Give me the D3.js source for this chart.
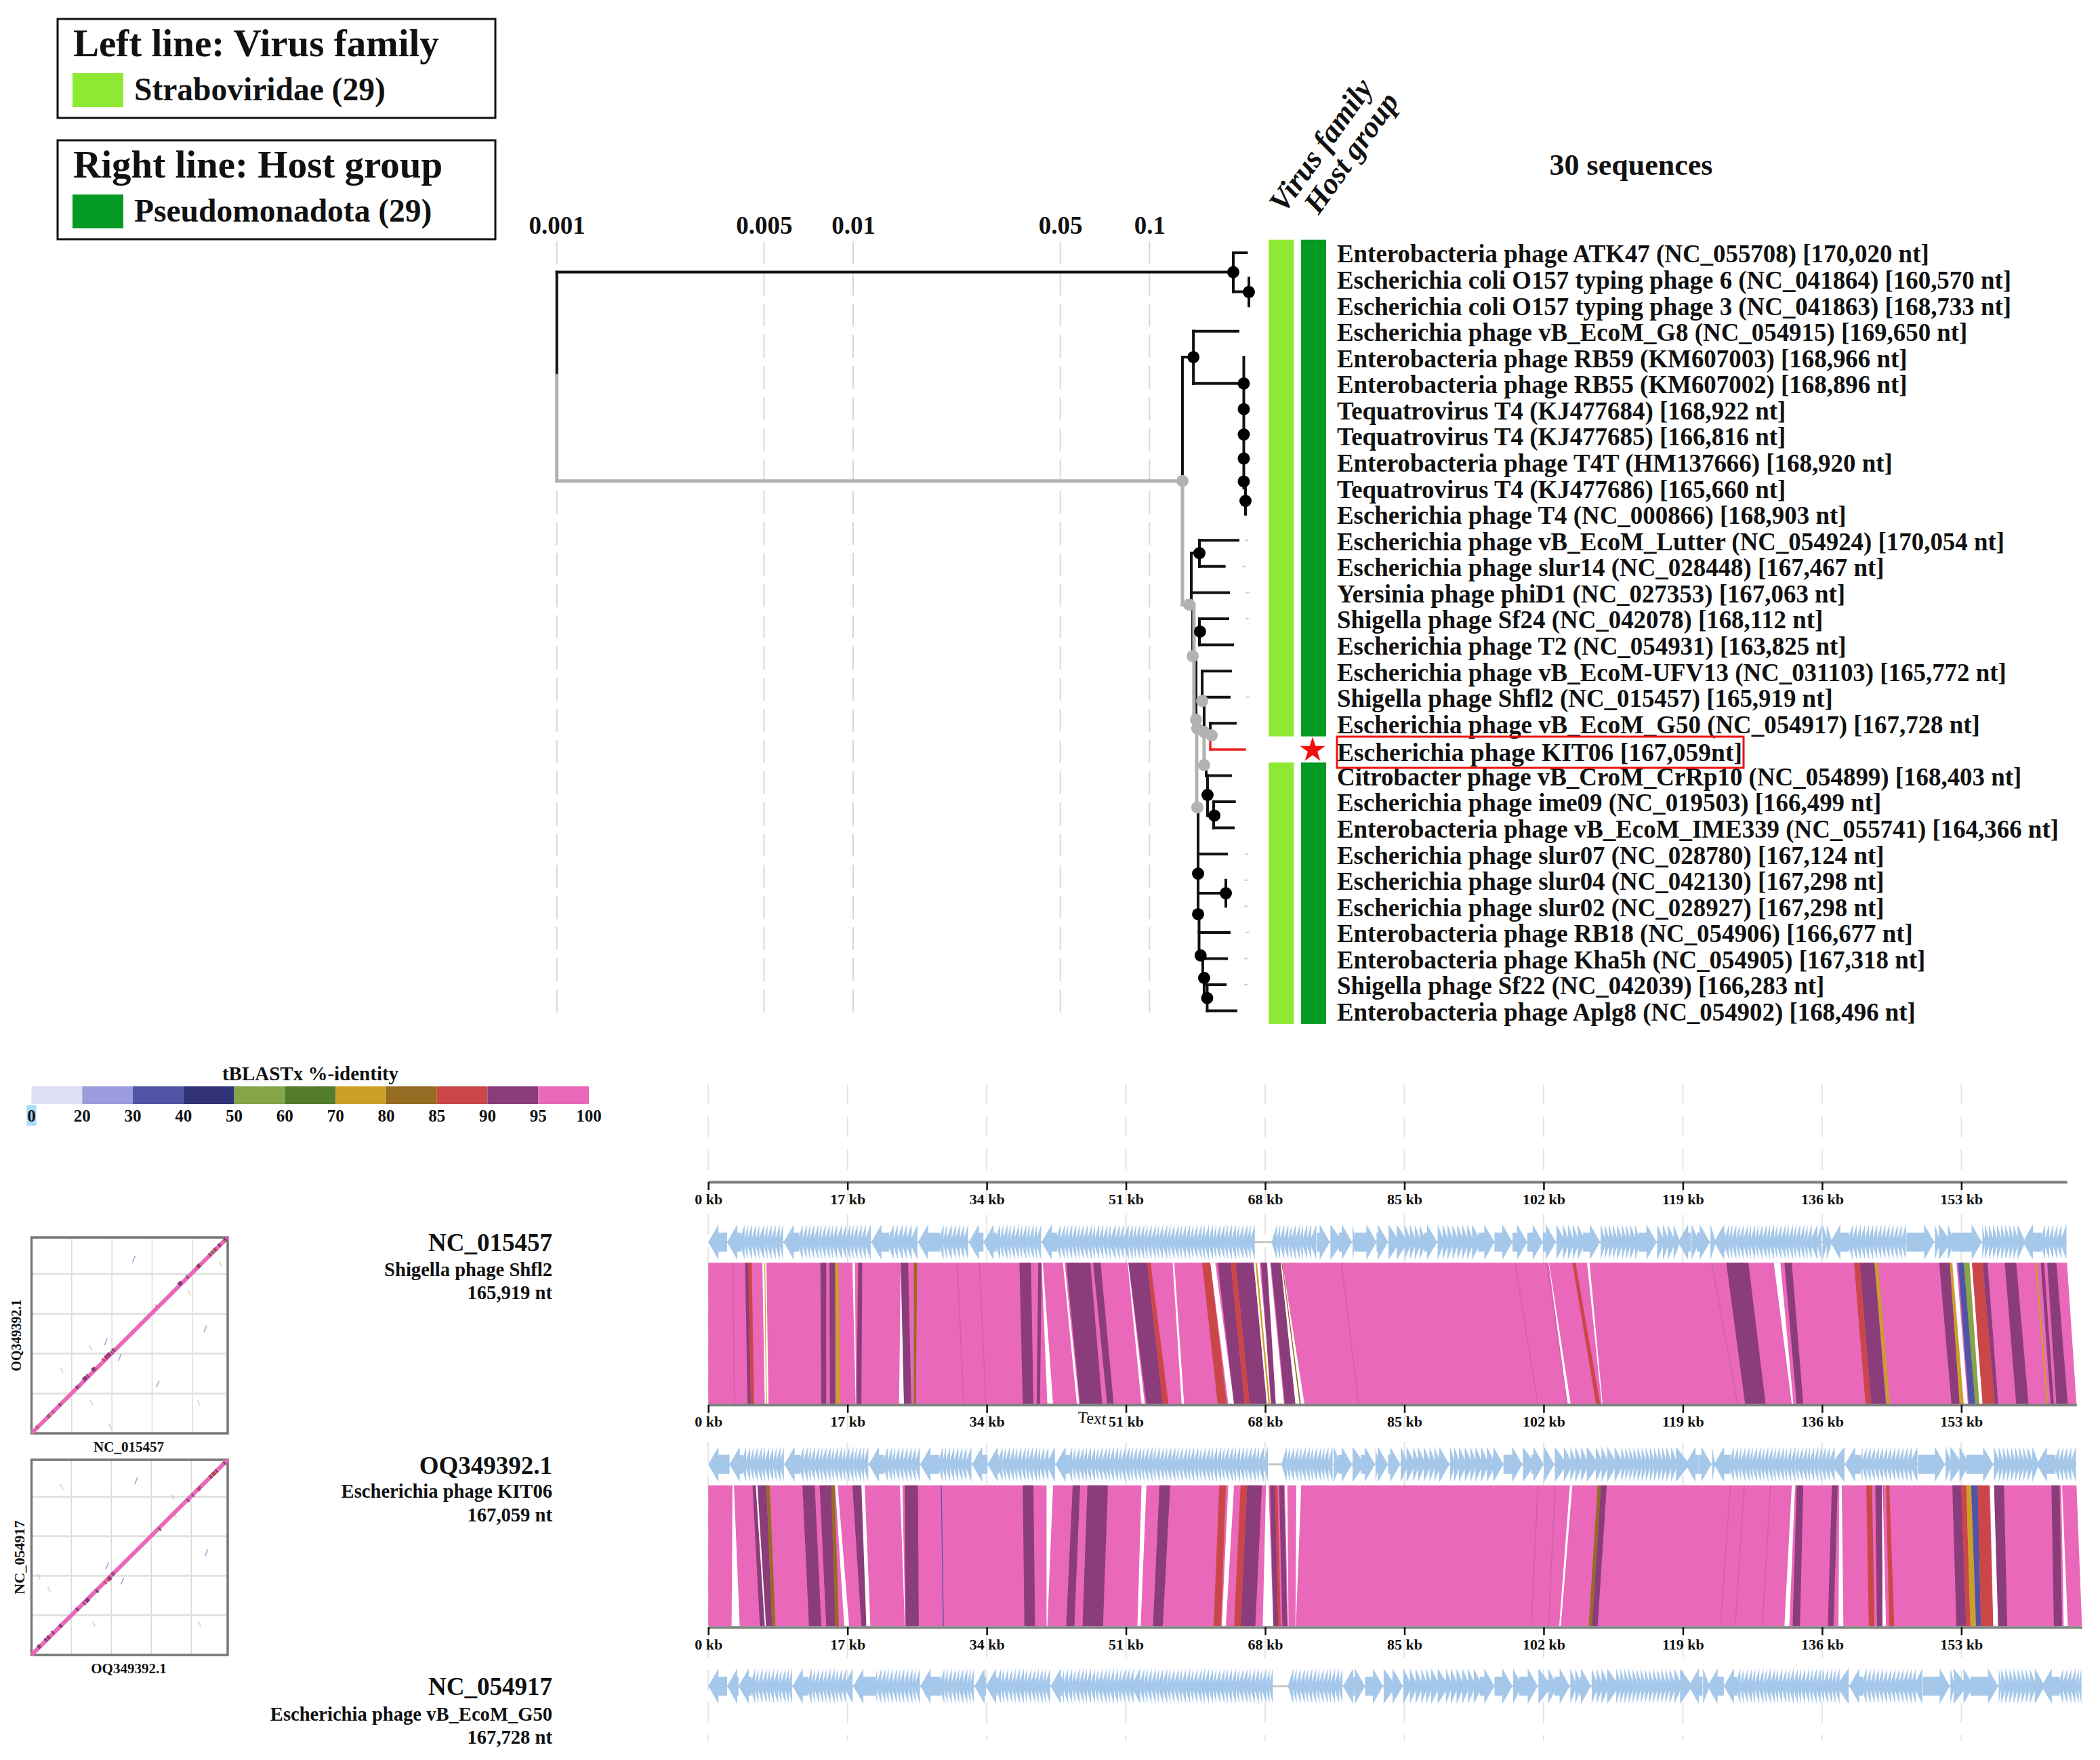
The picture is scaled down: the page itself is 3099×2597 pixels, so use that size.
<!DOCTYPE html>
<html>
<head>
<meta charset="utf-8">
<script src="https://cdn.jsdelivr.net/npm/d3@7"></script>
<style>
  html, body { margin: 0; background: #fff; }
  svg { display: block; }
  text { font-family: "Liberation Serif", serif; font-weight: bold; fill: #111; }
</style>
</head>
<body>
<svg id="chart" width="3099" height="2597"></svg>
<script>
// ---- phylogeny data ----
const seqLabels = [
  'Enterobacteria phage ATK47 (NC_055708) [170,020 nt]',
  'Escherichia coli O157 typing phage 6 (NC_041864) [160,570 nt]',
  'Escherichia coli O157 typing phage 3 (NC_041863) [168,733 nt]',
  'Escherichia phage vB_EcoM_G8 (NC_054915) [169,650 nt]',
  'Enterobacteria phage RB59 (KM607003) [168,966 nt]',
  'Enterobacteria phage RB55 (KM607002) [168,896 nt]',
  'Tequatrovirus T4 (KJ477684) [168,922 nt]',
  'Tequatrovirus T4 (KJ477685) [166,816 nt]',
  'Enterobacteria phage T4T (HM137666) [168,920 nt]',
  'Tequatrovirus T4 (KJ477686) [165,660 nt]',
  'Escherichia phage T4 (NC_000866) [168,903 nt]',
  'Escherichia phage vB_EcoM_Lutter (NC_054924) [170,054 nt]',
  'Escherichia phage slur14 (NC_028448) [167,467 nt]',
  'Yersinia phage phiD1 (NC_027353) [167,063 nt]',
  'Shigella phage Sf24 (NC_042078) [168,112 nt]',
  'Escherichia phage T2 (NC_054931) [163,825 nt]',
  'Escherichia phage vB_EcoM-UFV13 (NC_031103) [165,772 nt]',
  'Shigella phage Shfl2 (NC_015457) [165,919 nt]',
  'Escherichia phage vB_EcoM_G50 (NC_054917) [167,728 nt]',
  'Escherichia phage KIT06 [167,059nt]',
  'Citrobacter phage vB_CroM_CrRp10 (NC_054899) [168,403 nt]',
  'Escherichia phage ime09 (NC_019503) [166,499 nt]',
  'Enterobacteria phage vB_EcoM_IME339 (NC_055741) [164,366 nt]',
  'Escherichia phage slur07 (NC_028780) [167,124 nt]',
  'Escherichia phage slur04 (NC_042130) [167,298 nt]',
  'Escherichia phage slur02 (NC_028927) [167,298 nt]',
  'Enterobacteria phage RB18 (NC_054906) [166,677 nt]',
  'Enterobacteria phage Kha5h (NC_054905) [167,318 nt]',
  'Shigella phage Sf22 (NC_042039) [166,283 nt]',
  'Enterobacteria phage Aplg8 (NC_054902) [168,496 nt]'
];
const queryRow = 19;
const distTicks = [0.001, 0.005, 0.01, 0.05, 0.1];

// [from, to, row]
const hBlack = [
  [.001,.1918,.74],[.1918,.2125,0],[.1918,.2165,1.49],[.1292,.1407,3.99],[.1407,.1990,3],[.1407,.2081,5],
  [.1384,.1474,11.49],[.1474,.1990,11],[.1474,.1788,12],[.1384,.1849,13],[.1399,.1481,14.49],[.1474,.1839,14],
  [.1474,.1908,15],[.1506,.1878,16],[.1506,.1858,17],[.1604,.1949,18],[.1554,.1878,20],[.1570,.1655,21.53],
  [.1646,.1935,21],[.1646,.1918,22],[.1459,.1820,23],[.1459,.1810,24.5],[.1470,.1858,26],[.1513,.1820,27],
  [.1529,.1801,28],[.1566,.1959,29]
];
// [x, rowFrom, rowTo]
const vBlack = [
  [.001,.74,4.7],[.1918,0,1.49],[.2165,.97,2.03],[.1292,3.99,8.73],[.1407,3,5],[.2081,4,9],[.2109,9,10],
  [.1384,11.49,13.46],[.1474,11,12],[.1399,13.46,15.43],[.1474,14,15],[.1436,15.43,17.86],[.1506,16,17.14],
  [.1529,17.14,18.33],[.1604,18,18.46],[.1554,19.6,20],[.1570,20,21.53],[.1646,21,22],[.1459,21.22,25.3],
  [.1810,24,25],[.1470,25.3,26.88],[.1513,26.88,27.74],[.1529,27.74,28.51],[.1566,28,29]
];
const hGrey = [[.001,.1292,8.73],[.1292,.1362,13.46],[.1399,.1436,15.43],[.1443,.1621,18.33],[.1450,.1529,19.6]];
const vGrey = [[.001,4.7,8.73],[.1292,8.73,13.46],[.1413,13.46,17.86],[.1443,17.86,21.22],[.1529,18.33,19.6]];
const hRed = [[.1604,.2098,19]];
const vRed = [[.1604,18.46,19]];
// [x, row]
const dotsBlack = [
  [.1918,.74],[.2165,1.5],[.1407,3.99],[.2081,5],[.2081,5.98],[.2081,6.95],[.2081,7.87],[.2081,8.75],[.2109,9.49],
  [.1474,11.49],[.1481,14.49],[.1570,20.74],[.1655,21.53],[.1459,23.75],[.1810,24.5],[.1459,25.3],[.1488,26.88],
  [.1529,27.74],[.1566,28.51]
];
const dotsGrey = [
  [.1292,8.73],[.1362,13.46],[.1399,15.43],[.1436,17.86],[.1506,17.14],[.1450,18.2],[.1529,18.33],[.1621,18.46],
  [.1529,19.6],[.1450,21.22]
];
const specks = [[.2131,11],[.2087,12],[.2150,13],[.2140,14],[.2150,17],[.2131,23],[.2120,24],[.2120,25],[.2150,26],[.2120,27],[.2120,28]];

// ---- identity legend ----
const identityTicks = ['0','20','30','40','50','60','70','80','85','90','95','100'];
const identityBreaks = [20,30,40,50,60,70,80,85,90,95];
const identityColors = ['#DDE0F2','#9A9CDD','#5154A5','#323278','#85A547','#537C2B','#CBA029','#966C24','#CB4747','#8B3C7B','#E968BA'];

// ---- genomes ----
const genomeIds = ['NC_015457','OQ349392.1','NC_054917'];
const genomeNames = ['Shigella phage Shfl2','Escherichia phage KIT06','Escherichia phage vB_EcoM_G50'];
const genomeNt = ['165,919 nt','167,059 nt','167,728 nt'];
const genomeKb = [165.9, 167.06, 167.73];
const rulerTicks = [0,17,34,51,68,85,102,119,136,153];

// gene start positions in kb, each gene runs to the next start
const genes1 = [0,2.3,4,4.5,4.9,5.4,5.9,6.3,6.9,7.3,7.8,8.3,8.8,9.2,11.1,11.6,12.1,12.5,13,13.5,13.9,14.4,14.9,15.3,15.8,16.4,16.9,17.4,17.8,18.3,18.8,19.3,19.9,22.1,22.7,23.2,23.8,24.3,24.9,25.6,28.3,28.8,29.2,29.8,30.3,30.8,31.3,31.8,33.6,35.2,35.7,36.1,36.6,37,37.5,38,38.4,38.9,39.3,39.8,40.2,40.7,42.6,43.1,43.6,44,44.5,45,45.4,45.9,46.4,46.9,47.3,47.8,48.3,48.8,49.2,49.8,50.3,50.8,51.4,51.9,52.3,52.8,53.3,53.7,54.2,54.7,55.1,55.6,56.1,56.5,57,57.5,57.9,58.4,58.9,59.3,59.8,60.3,60.7,61.2,61.7,62.1,62.6,63.1,63.5,64,64.5,64.9,65.4,65.9,66.3,66.8,69,69.5,69.9,70.4,70.9,71.3,71.8,72.3,72.7,73.2,73.7,74.3,75.9,77,78.6,78.9,81.6,83,84,85,85.6,86.2,86.8,87.4,89,89.6,90.2,90.8,91.4,92,92.6,93.2,94,96,98.2,100,101.9,103.5,104.3,104.9,105.5,106.1,106.8,108.9,109.4,109.9,110.4,110.9,111.5,112,112.5,113.1,113.6,115.8,116.5,117.1,117.8,118.4,120,120.7,122.3,122.8,124.2,124.7,125.1,125.6,126,126.5,127,127.4,127.9,128.3,128.8,129.3,129.7,130.2,130.6,131.1,131.6,132,132.5,132.9,133.4,133.9,134.3,134.8,135.5,136,136.5,137,139.3,139.8,140.3,140.8,141.3,141.8,142.3,142.8,143.3,143.8,144.3,144.8,145.3,145.8,146.3,149.7,150.2,151.3,151.9,155.5,155.8,156.3,156.8,157.3,157.8,158.3,158.8,159.3,159.8,160.5,162.8,163.3,163.8,164.3,164.8,165.3];
const genes2 = [0,2.6,4.2,4.7,5.2,5.6,6.1,6.6,7,7.5,8,8.4,8.9,9.3,11.2,11.7,12.2,12.6,13.1,13.6,14,14.5,15,15.4,15.9,16.4,16.8,17.3,17.8,18.2,18.7,19.1,19.6,21.5,22,22.5,22.9,23.4,23.9,24.4,24.9,25.4,25.9,28.2,28.7,29.1,29.6,30.1,30.6,31.1,31.6,32.2,34.1,35.5,36,36.4,36.9,37.4,37.8,38.3,38.8,39.2,39.7,40.2,40.6,41.1,41.6,42.4,44,44.5,44.9,45.4,45.9,46.3,46.8,47.3,47.7,48.2,48.7,49.1,49.6,50.1,50.5,51,51.5,51.9,52.4,52.9,53.3,53.8,54.3,54.7,55.2,55.7,56.1,56.6,57.1,57.5,58,58.5,58.9,59.4,59.9,60.3,60.8,61.3,61.7,62.2,62.7,63.1,63.6,64.1,64.5,65,65.5,65.9,66.4,66.9,67.3,67.9,68.4,70.2,70.7,71.1,71.6,72.1,72.5,73,73.5,73.9,74.4,74.9,75.3,75.8,76.3,76.95,78.6,79.7,81.4,81.7,83,84.5,85.2,86,86.6,87.3,88,88.6,89.2,90.5,91,91.6,92.3,93,93.6,94.3,95,95.8,97.1,99.4,100.5,102,103.3,104.4,105.2,105.8,106.5,107.2,108.3,109,109.7,110.6,111.4,111.9,112.4,112.9,113.4,113.9,114.4,114.9,115.4,115.9,116.4,116.9,117.5,118.1,119.3,120.9,122.5,122.8,124.8,125.3,125.8,126.2,126.7,127.2,127.6,128.1,128.6,129,129.5,130,130.4,130.9,131.4,131.8,132.3,132.8,133.2,133.7,134.2,134.6,135.1,135.6,136,136.5,137,137.6,138.8,140.7,141,141.5,142,142.5,143,143.5,144,144.5,145,145.5,146,146.5,147,147.7,151,151.6,152.7,153.6,156.9,157.5,158,158.5,159,159.5,160,160.5,161,161.6,162.2,164.5,165,165.5,166,166.5];
const genes3 = [0,2.3,3.7,5.3,5.8,6.2,6.7,7.2,7.6,8.1,8.6,9,9.5,9.9,10.3,12.2,12.7,13.1,13.6,14.1,14.5,15,15.5,15.9,16.4,16.9,17.7,20.4,20.7,21.2,21.7,22.1,22.6,23.1,23.5,24,24.5,25,25.4,25.9,28.4,28.9,29.3,29.8,30.3,30.7,31.2,31.7,32.1,32.5,33.9,35.3,35.8,36.2,36.7,37.2,37.6,38.1,38.6,39,39.5,40,40.4,40.9,41.3,41.8,43.2,43.5,44,44.5,44.9,45.4,45.9,46.3,46.8,47.3,47.7,48.2,48.7,49.1,49.6,50.1,50.5,51,51.5,52,52.8,53.3,53.7,54.2,54.7,55.1,55.6,56.1,56.5,57,57.5,57.9,58.4,58.9,59.3,59.8,60.3,60.7,61.2,61.7,62.1,62.6,63.1,63.5,64,64.5,64.9,65.4,65.9,66.3,66.8,67.3,67.7,68.2,68.6,69,71,71.5,71.9,72.4,72.9,73.3,73.8,74.3,74.7,75.2,75.7,76.1,76.6,77.1,77.5,78.9,80.2,82.4,83.5,84.8,85.6,86.3,87,87.6,88.2,89,90,90.6,91.3,92,92.7,93.4,94.2,96,98.2,99,101.3,102.5,103.3,105.2,105.8,106.4,107.8,108.4,109,109.7,110.8,111.3,111.8,112.3,112.8,113.3,113.8,114.3,114.8,115.3,115.8,116.3,116.8,117.3,117.9,118.6,119.7,121.4,122,124,125.6,126.1,126.5,127,127.5,127.9,128.4,128.9,129.3,129.8,130.3,130.7,131.2,131.7,132.1,132.6,133.1,133.5,134,134.5,134.9,135.4,135.9,136.3,136.8,137.3,137.7,138.2,139.3,141,141.5,142,142.5,143,143.5,144,144.5,145,145.5,146,146.5,147,147.5,148.3,151.6,152,153.2,154.1,157.5,157.8,158.3,158.8,159.3,159.8,160.3,160.8,161.3,161.9,162.8,165,165.5,166,166.5,167,167.4];
const blanks = [[[66.8,69]], [[68.4,70.2]], [[69,71]]];
const leftSpans = [
  [[0,74.3],[118.4,120],[122.8,136],[137,146.3],[160.5,166]],
  [[0,76],[119.3,120.9],[122.8,138.8],[138.8,147.7],[162.2,167.1]],
  [[0,78],[119.7,121.4],[122,139.3],[139.3,148.3],[162.8,167.8]]
];

// [topStart, topEnd, bottomStart, bottomEnd, identity]  identity null = no hit
const ribbons1 = [
  [0,165.9,0,167.06,97],
  [4.5,4.9,4.8,5.2,92],[4.9,5.3,5.2,5.6,87],[6.6,7.1,6.9,7.35,null],[6.85,6.95,7.05,7.15,75],[13.7,14.4,13.8,14.4,92],
  [14.8,15.5,14.85,15.5,92],[15.5,15.9,15.6,16.1,75],[17.6,17.9,18,18.05,null],[18.3,18.8,18.1,18.7,92],[23.5,23.52,23.3,23.9,null],
  [23.5,24.4,23.9,24.8,92],[25.1,25.5,25.1,25.35,82],[38,39.4,38.4,39.7,92],[40.3,40.7,40.1,40.5,92],[40.7,40.85,41.4,42.1,null],
  [43.3,43.5,45,45.3,null],[43.7,46.65,45.4,48.1,92],[47,47.9,48.7,49.5,92],[51.2,51.3,52.9,53.3,null],[51.3,53.6,53.5,55.5,92],
  [53.6,54,55.5,56.2,87],[56.7,56.9,57.8,58.1,null],[60.3,61.3,62.2,63.3,87],[61.3,61.9,63.5,64.2,null],[62.2,63.8,64.2,65.5,92],
  [63.8,64.4,65.5,66.1,87],[64.4,66.6,66.1,68.2,92],[66.6,67.3,68.2,68.9,null],[66.8,67,68.4,68.6,75],[67.5,68.2,68.7,69.3,92],
  [68.25,68.6,69.3,70.3,null],[68.7,69.9,70.4,71.7,92],[69.9,70.1,71.7,72.8,null],[70,70.1,72.2,72.35,82],
  [102.6,102.65,104.9,105.3,null],[105.5,105.9,108.4,108.9,87],[107.3,107.6,109.1,109.2,null],
  [124.3,127,126.6,129.1,92],[130.1,130.9,132.3,132.5,null],[131.4,132.3,132.9,133.7,92],[139.9,140.6,141.3,142,87],
  [140.6,142.4,142,143.8,92],[142.4,142.8,143.9,144.3,75],[150.3,151.6,151.8,152.8,92],[151.6,151.9,152.8,153.3,75],
  [151.9,152.4,153.3,153.8,null],[152.6,153.3,153.9,154.7,35],[153.3,154,154.7,155.2,55],[154,154.3,155.2,155.6,null],
  [154.3,155.6,155.6,157.1,87],[155.6,156.2,157.1,157.5,92],[158.3,159.7,159.7,161.2,92],[162,162.2,163.4,163.6,75],
  [162.7,163.1,163.9,164.3,92],[163.5,164.6,164.6,166,92]
];
const ribbons2 = [
  [0,167.06,0,167.73,97],
  [2.96,3.13,2.85,3.84,null],[5.4,7.1,6.3,7.8,92],[5.8,6,6.9,7.05,null],[7.1,7.5,7.8,8.2,82],[11.5,13,12.3,13.8,92],
  [13.6,15.4,14.4,15.9,92],[15,15.4,15.5,15.95,82],[15.5,15.8,16.6,17.2,null],[17.6,18.7,18.7,19.8,92],[18.7,19.1,19.3,19.8,null],
  [23.4,23.7,24,24.05,null],[24,25.6,24.1,25.7,92],[28.4,28.5,28.65,28.76,35],[38.4,39.7,38.6,39.9,92],[41.3,42.1,41.3,41.4,null],
  [44.5,45.4,43.7,44.7,92],[46.3,48.8,45.7,48.2,92],[52.9,53.5,52.4,52.8,null],[55.1,56.4,54.3,55.5,92],[62.4,63.2,61.7,62.6,87],
  [63.5,64.2,62.7,63.2,null],[65,65.8,64.2,65,87],[65.8,67.6,65,66.8,92],[68.1,68.4,67.7,69,null],[68.6,69.2,69,69.6,92],
  [69.2,69.5,69.6,69.9,87],[69.7,70.3,70.1,70.7,92],[70.4,70.7,70.8,70.85,null],[71.8,72.4,71.7,71.75,null],
  [105.2,105.5,103.9,104.1,null],[108.6,109,107.5,107.9,82],[109,109.7,107.9,108.6,92],
  [132.3,132.7,131.4,132,null],
  [132.9,133.7,132.4,133.3,92],[137.2,137.9,136.7,137.4,92],[138.1,138.4,138,138.6,null],[141.4,142.1,141.7,142.4,87],
  [142.5,143.5,142.7,143.3,92],[143.3,143.4,143.4,143.8,null],[143.8,144.2,144.2,144.8,87],[151.9,153,152.4,153.6,92],
  [153,153.6,153.6,154.1,87],[153.6,154.2,154.1,154.8,75],[154.2,155,154.8,155.4,35],[155,156.4,155.4,156.9,87],
  [156.5,157,156.9,157.5,null],[157,158.2,157.5,158.6,92],[164,165,164.3,165.3,92],[165.2,165.3,165.5,166,null]
];
// hairline hits inside the ribbons [top kb, bottom kb]
const hairlines1 = [[3,3.2],[30.4,31.2],[33.1,33.9],[77.3,79.4],[98.5,101.3],[102.4,104.9],[122.5,125.7]];
const hairlines2 = [[101.3,100.5],[124.8,123.6],[126.5,125.4],[129.7,128.7],[103.4,102.6]];

// ---- stray off-diagonal hits on the dot plots [x kb, y kb, colour group] ----
const strayHits1 = [[86.6,148.7,0],[62.9,78,0],[74.6,64.7,0],[106.8,42.2,0],[146.9,89,0],[25.6,53.7,1],[50,73,1],[50.8,26,1],[141.5,26,1],[159.8,144.5,1],[66.5,6,1],[133.4,120,1]];
const strayHits2 = [[89.1,149.7,0],[64.4,76.5,0],[77.3,63.5,0],[149,88.1,0],[25.8,144.4,1],[14.8,56.5,1],[53,26.4,1],[143.2,26.4,1],[6.3,67.2,1],[120.4,135.7,1],[122.2,120.6,1]];
const dotGrid = [34,68,102,136];

// ---- colours ----
const familyColor = '#8EE932';
const hostColor = '#059A22';
const geneColor = '#A5C8EA';

const svg = d3.select('#chart');

const defs = svg.append('defs');
defs.append('filter').attr('id', 'soft').attr('x', '-2%').attr('y', '-20%').attr('width', '104%').attr('height', '140%')
  .append('feGaussianBlur').attr('stdDeviation', '0.6');

// ---- tree scales ----
const xDist = d3.scaleLog().domain([0.001, 0.1]).range([821.7, 1696.3]);
const yRow = d3.scaleLinear().domain([0, 29]).range([373, 1491.6]);

const gridTree = svg.append('g');
gridTree.selectAll('line').data(distTicks).join('line')
  .attr('x1', d => xDist(d)).attr('x2', d => xDist(d))
  .attr('y1', 356).attr('y2', 1498)
  .attr('stroke', '#d8d8d8').attr('stroke-width', 2).attr('stroke-dasharray', '34,12');

const distAxis = svg.append('g').attr('transform', 'translate(0,350)')
  .call(d3.axisTop(xDist).tickValues(distTicks).tickFormat(d => String(d)).tickSize(0).tickPadding(5));
distAxis.select('.domain').remove();
distAxis.selectAll('text').style('font-family', '"Liberation Serif", serif').style('font-size', '37px').style('font-weight', 'bold').attr('fill', '#111');

function drawTree(h, v, color, width) {
  const g = svg.append('g').attr('stroke', color).attr('stroke-width', width).attr('stroke-linecap', 'square');
  g.selectAll('.h').data(h).join('line').attr('class', 'h')
    .attr('x1', d => xDist(d[0])).attr('x2', d => xDist(d[1]))
    .attr('y1', d => yRow(d[2])).attr('y2', d => yRow(d[2]));
  g.selectAll('.v').data(v).join('line').attr('class', 'v')
    .attr('x1', d => xDist(d[0])).attr('x2', d => xDist(d[0]))
    .attr('y1', d => yRow(d[1])).attr('y2', d => yRow(d[2]));
}
drawTree(hBlack, vBlack, '#111', 4);
drawTree(hGrey, vGrey, '#b2b2b2', 5);
drawTree(hRed, vRed, '#ee2222', 3.5);

function drawDots(data, color) {
  svg.append('g').selectAll('circle').data(data).join('circle')
    .attr('cx', d => xDist(d[0])).attr('cy', d => yRow(d[1])).attr('r', 9).attr('fill', color);
}
drawDots(dotsBlack, '#000');
drawDots(dotsGrey, '#b2b2b2');

svg.append('g').selectAll('rect').data(specks).join('rect')
  .attr('x', d => xDist(d[0]) - 3).attr('y', d => yRow(d[1]) - 1).attr('width', 5).attr('height', 2).attr('fill', '#ccc');

// ---- annotation strips: the query row has no family or host ----
const stripRows = [[-0.5, queryRow - 0.5], [queryRow + 0.5, seqLabels.length - 0.5]];
[[1872.3, familyColor], [1920, hostColor]].forEach(([x, color]) => {
  svg.append('g').selectAll('rect').data(stripRows).join('rect')
    .attr('x', x).attr('width', 37)
    .attr('y', d => yRow(d[0])).attr('height', d => yRow(d[1]) - yRow(d[0]))
    .attr('fill', color);
});
svg.append('path')
  .attr('d', d3.symbol(d3.symbolStar).size(430)())
  .attr('transform', `translate(1937,${yRow(queryRow) + 1})`)
  .attr('fill', '#f01010');

svg.append('g').selectAll('text').data(seqLabels).join('text')
  .attr('x', 1973).attr('y', (d, i) => yRow(i) + (i === queryRow ? 4 : 1.5)).attr('dy', '0.35em')
  .style('font-size', (d, i) => i === queryRow ? '37.5px' : '36.9px').text(d => d);
svg.append('rect').attr('x', 1973).attr('y', 1087).attr('width', 600).attr('height', 46)
  .attr('fill', 'none').attr('stroke', '#ee1111').attr('stroke-width', 3);

svg.append('text').attr('x', 2407).attr('y', 243).attr('dy', '0.35em').attr('text-anchor', 'middle')
  .style('font-size', '44px').text('30 sequences');
svg.append('text').attr('transform', 'translate(1895,316) rotate(-54.5)')
  .style('font-size', '45px').style('font-style', 'italic').text('Virus family');
svg.append('text').attr('transform', 'translate(1946,318) rotate(-54.5)')
  .style('font-size', '44.5px').style('font-style', 'italic').text('Host group');

// ---- family / host legends ----
const legendBoxes = [
  { y: 28, title: 'Left line: Virus family', label: 'Straboviridae (29)', color: familyColor },
  { y: 207, title: 'Right line: Host group', label: 'Pseudomonadota (29)', color: hostColor }
];
legendBoxes.forEach(b => {
  svg.append('rect').attr('x', 85).attr('y', b.y).attr('width', 646).attr('height', 146)
    .attr('fill', 'none').attr('stroke', '#111').attr('stroke-width', 3);
  svg.append('text').attr('x', 108).attr('y', b.y + 55).style('font-size', '57px').text(b.title);
  svg.append('rect').attr('x', 107).attr('y', b.y + 80).attr('width', 75).attr('height', 50).attr('fill', b.color);
  svg.append('text').attr('x', 198).attr('y', b.y + 103).attr('dy', '0.35em').style('font-size', '47.5px').text(b.label);
});

// ---- identity colour bar ----
const xLegend = d3.scalePoint().domain(identityTicks).range([46.5, 869]);
svg.append('text').attr('x', 458).attr('y', 1584).attr('dy', '0.35em').attr('text-anchor', 'middle')
  .style('font-size', '29px').text('tBLASTx %-identity');
svg.append('g').selectAll('rect').data(identityColors).join('rect')
  .attr('x', (d, i) => xLegend(identityTicks[i])).attr('y', 1603)
  .attr('width', (d, i) => xLegend(identityTicks[i + 1]) - xLegend(identityTicks[i])).attr('height', 26)
  .attr('fill', d => d);
svg.append('rect').attr('x', xLegend('0') - 7).attr('y', 1631).attr('width', 14).attr('height', 30).attr('fill', '#a9dcf6');
svg.append('g').selectAll('text').data(identityTicks).join('text')
  .attr('x', d => xLegend(d)).attr('y', 1646).attr('dy', '0.35em').attr('text-anchor', 'middle')
  .style('font-size', '25px').text(d => d);

// ---- genome map ----
const identityColor = d3.scaleThreshold().domain(identityBreaks).range(identityColors);
const rulerY = [1744, 2072.7, 2401];
const geneY = [1832.7, 2160.7, 2488];
const ribbonBand = [[1863.3, 2071.7], [2191.7, 2399.3]];
const xGenome = genomeKb.map(kb => d3.scaleLinear().domain([0, kb]).range([1045.2, 1045.2 + kb * 12.086]));

svg.append('g').selectAll('line').data(rulerTicks).join('line')
  .attr('x1', d => xGenome[0](d)).attr('x2', d => xGenome[0](d))
  .attr('y1', 1600).attr('y2', 2569)
  .attr('stroke', '#e4e4e4').attr('stroke-width', 2).attr('stroke-dasharray', '30,18');

// narrow genes overlap the neighbour a little, so the track keeps a core with spikes on it
function arrowPath(x0, x1, cy, left) {
  const w = x1 - x0, head = 15, overlap = 0.45;
  let p;
  if (w < head) {
    p = left ? [[x0 - w * overlap, cy], [x1 - 0.8, cy - 26], [x1 - 0.8, cy + 26]]
             : [[x1 + w * overlap, cy], [x0 + 0.8, cy - 26], [x0 + 0.8, cy + 26]];
  } else if (left) {
    p = [[x0, cy], [x0 + head, cy - 26], [x0 + head, cy - 14], [x1, cy - 14], [x1, cy + 14], [x0 + head, cy + 14], [x0 + head, cy + 26]];
  } else {
    p = [[x1, cy], [x1 - head, cy - 26], [x1 - head, cy - 14], [x0, cy - 14], [x0, cy + 14], [x1 - head, cy + 14], [x1 - head, cy + 26]];
  }
  return d3.line()(p) + 'Z';
}

[genes1, genes2, genes3].forEach((starts, t) => {
  const x = xGenome[t], cy = geneY[t];
  svg.append('line').attr('x1', x(0)).attr('x2', x(genomeKb[t])).attr('y1', cy).attr('y2', cy)
    .attr('stroke', '#c9c5c0').attr('stroke-width', 3);
  const genes = starts.map((s, i) => [s, i + 1 < starts.length ? starts[i + 1] : genomeKb[t]])
    .filter(g => !blanks[t].some(b => g[0] >= b[0] && g[0] < b[1]));
  svg.append('g').attr('filter', 'url(#soft)').selectAll('path').data(genes).join('path')
    .attr('d', g => arrowPath(x(g[0]), x(g[1]), cy, leftSpans[t].some(sp => g[0] >= sp[0] && g[0] < sp[1])))
    .attr('fill', geneColor);
});

[[ribbons1, hairlines1], [ribbons2, hairlines2]].forEach(([rows, hair], i) => {
  const xTop = xGenome[i], xBot = xGenome[i + 1], [y0, y1] = ribbonBand[i];
  svg.append('g').selectAll('path').data(rows).join('path')
    .attr('d', r => d3.line()([[xTop(r[0]), y0], [xTop(r[1]), y0], [xBot(r[3]), y1], [xBot(r[2]), y1]]) + 'Z')
    .attr('fill', r => r[4] === null ? '#fff' : identityColor(r[4]));
  svg.append('g').selectAll('line').data(hair).join('line')
    .attr('x1', h => xTop(h[0])).attr('x2', h => xBot(h[1])).attr('y1', y0).attr('y2', y1)
    .attr('stroke', '#b65a9c').attr('stroke-width', 1.5).attr('opacity', 0.55);
});

genomeKb.forEach((kb, t) => {
  const axis = svg.append('g').attr('transform', `translate(0,${rulerY[t]})`)
    .call(d3.axisBottom(xGenome[t]).tickValues(rulerTicks).tickFormat(d => `${d} kb`).tickSizeInner(12).tickSizeOuter(0).tickPadding(5));
  axis.select('.domain').attr('stroke', '#808080').attr('stroke-width', 4);
  axis.selectAll('.tick line').attr('stroke', '#111').attr('stroke-width', 2.5);
  axis.selectAll('text').style('font-family', '"Liberation Serif", serif').style('font-size', '22px').style('font-weight', 'bold').attr('fill', '#111');
});
svg.append('text').attr('transform', 'translate(1590,2099) rotate(4)').style('font-size', '24px').style('font-weight', 'normal').text('Text');

// genome captions
const captionY = [[1833, 1873, 1907], [2162, 2200, 2235], [2488, 2529, 2563]];
genomeIds.forEach((id, t) => {
  [[id, 37], [genomeNames[t], 28.6], [genomeNt[t], 28.6]].forEach(([s, size], k) => {
    svg.append('text').attr('x', 815).attr('y', captionY[t][k]).attr('dy', '0.35em').attr('text-anchor', 'end')
      .style('font-size', `${size}px`).text(s);
  });
});

// ---- dot plots ----
function dotPlot(box, xi, yi, rows, stray, yLabelX, yLabelSize) {
  const x = d3.scaleLinear().domain([0, genomeKb[xi]]).range([box.x0, box.x1]);
  const y = d3.scaleLinear().domain([0, genomeKb[yi]]).range([box.y1, box.y0]);
  const g = svg.append('g');
  g.selectAll('.gx').data(dotGrid).join('line').attr('class', 'gx')
    .attr('x1', d => x(d)).attr('x2', d => x(d)).attr('y1', box.y0).attr('y2', box.y1)
    .attr('stroke', '#d9d9d9').attr('stroke-width', 1.5);
  g.selectAll('.gy').data(dotGrid).join('line').attr('class', 'gy')
    .attr('x1', box.x0).attr('x2', box.x1).attr('y1', d => y(d)).attr('y2', d => y(d))
    .attr('stroke', '#e2e2e2').attr('stroke-width', 3);
  g.selectAll('.st').data(stray).join('line').attr('class', 'st')
    .attr('x1', d => x(d[0]) - 2).attr('x2', d => x(d[0]) + 2)
    .attr('y1', d => y(d[1]) + (d[2] ? -4 : 5)).attr('y2', d => y(d[1]) + (d[2] ? 4 : -5))
    .attr('stroke', d => d[2] ? '#d9cfb0' : '#9a9cdd').attr('stroke-width', 1.5);
  g.append('rect').attr('x', box.x0).attr('y', box.y0).attr('width', box.x1 - box.x0).attr('height', box.y1 - box.y0)
    .attr('fill', 'none').attr('stroke', '#777').attr('stroke-width', 3.5);
  const hits = rows.filter(r => r[4] !== null);
  g.selectAll('.hit').data(hits).join('line').attr('class', 'hit')
    .attr('x1', r => x(r[0])).attr('x2', r => x(r[1]))
    .attr('y1', r => y(r[2])).attr('y2', r => y(r[3]))
    .attr('stroke', r => identityColor(r[4])).attr('stroke-width', 6);
  svg.append('text').attr('x', 190).attr('y', box.y1 + 20).attr('dy', '0.35em').attr('text-anchor', 'middle')
    .style('font-size', '21px').text(genomeIds[xi]);
  svg.append('text').attr('transform', `translate(${yLabelX},${(box.y0 + box.y1) / 2}) rotate(-90)`)
    .attr('text-anchor', 'middle').attr('dy', '0.35em')
    .style('font-size', `${yLabelSize}px`).text(genomeIds[yi]);
}
dotPlot({ x0: 46.5, x1: 336, y0: 1826, y1: 2115 }, 0, 1, ribbons1, strayHits1, 24, 20);
dotPlot({ x0: 46.5, x1: 336, y0: 2154, y1: 2442 }, 1, 2, ribbons2, strayHits2, 28, 22);
</script>
</body>
</html>
